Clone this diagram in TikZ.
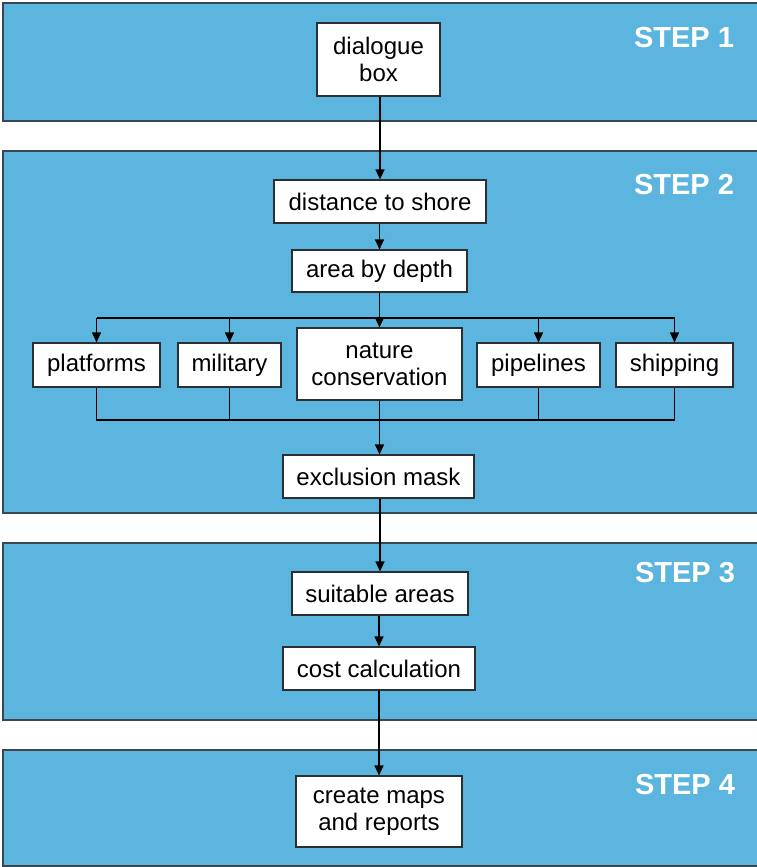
\documentclass[tikz,border=0pt]{standalone}
\usepackage{fontspec}
\setmainfont{Liberation Sans}
\usetikzlibrary{arrows.meta}
\definecolor{panelfill}{HTML}{5BB5DE}
\definecolor{paneledge}{HTML}{3A4650}
\definecolor{boxedge}{HTML}{2A2F33}
\begin{document}
\begin{tikzpicture}[x=1pt,y=-1pt,
  panel/.style={fill=panelfill,draw=paneledge,line width=1.5pt},
  steplabel/.style={text=white,font=\fontsize{29}{32}\selectfont\bfseries,inner sep=0pt},
  box/.style={draw=boxedge,fill=white,line width=1.1pt,inner sep=0pt,align=center,
    font=\fontsize{24}{27}\selectfont},
  conn/.style={line width=1.1pt,draw=black},
  arr/.style={conn,-{Triangle[length=10pt,width=9pt]}}]
\path[use as bounding box] (0,0) rectangle (756,867);
% panels
\draw[panel] (760,3) -- (3,3) -- (3,121) -- (760,121);
\draw[panel] (760,151) -- (3,151) -- (3,513) -- (760,513);
\draw[panel] (760,543) -- (3,543) -- (3,720) -- (760,720);
\draw[panel] (760,750) -- (3,750) -- (3,866) -- (760,866);
% step labels
\node[steplabel] (s1) at (684,38) {STEP 1};
\node[steplabel] (s2) at (684,185) {STEP 2};
\node[steplabel] (s3) at (685,573) {STEP 3};
\node[steplabel] (s4) at (685,785) {STEP 4};
% boxes
\node[box,minimum width=123pt,minimum height=73pt] (dlg) at (378.5,59.5) {dialogue\\box};
\node[box,minimum width=212pt,minimum height=43pt] (dist) at (380,201.5) {distance to shore};
\node[box,minimum width=175pt,minimum height=42pt] (depth) at (379.5,271) {area by depth};
\node[box,minimum width=127pt,minimum height=44pt] (plat) at (96.5,365) {platforms};
\node[box,minimum width=103pt,minimum height=44pt] (mil) at (229.5,365) {military};
\node[box,minimum width=165pt,minimum height=72pt] (nat) at (379.5,364) {nature\\conservation};
\node[box,minimum width=123pt,minimum height=44pt] (pipe) at (538.5,365) {pipelines};
\node[box,minimum width=117pt,minimum height=44pt] (ship) at (674.5,365) {shipping};
\node[box,minimum width=191pt,minimum height=43pt] (excl) at (378.5,476.5) {exclusion mask};
\node[box,minimum width=176pt,minimum height=43pt] (suit) at (380,593.5) {suitable areas};
\node[box,minimum width=192pt,minimum height=43pt] (cost) at (379,668.5) {cost calculation};
\node[box,minimum width=166pt,minimum height=71pt] (maps) at (379,811.5) {create maps\\and reports};
% coordinates
\coordinate (bl) at (96.5,318);
\coordinate (br) at (674.5,318);
\coordinate (ml) at (96.5,420);
\coordinate (mr) at (674.5,420);
% connectors
\draw[arr] (dlg.south -| dist.north) -- (dist.north);
\draw[arr] (dist.south -| depth.north) -- (depth.north);
\draw[arr] (depth.south -| nat.north) -- (nat.north);
\draw[conn] (bl) -- (br);
\draw[arr] (bl) -- (plat.north);
\draw[arr] (mil.north |- bl) -- (mil.north);
\draw[arr] (pipe.north |- bl) -- (pipe.north);
\draw[arr] (br) -- (ship.north);
\draw[conn] (plat.south) -- (ml) -- (mr) -- (ship.south);
\draw[conn] (mil.south) -- (mil.south |- ml);
\draw[conn] (pipe.south) -- (pipe.south |- ml);
\draw[arr] (nat.south) -- (nat.south |- excl.north);
\draw[arr] (excl.south -| suit.north) -- (suit.north);
\draw[arr] (suit.south -| cost.north) -- (cost.north);
\draw[arr] (cost.south -| maps.north) -- (maps.north);
\end{tikzpicture}
\end{document}
